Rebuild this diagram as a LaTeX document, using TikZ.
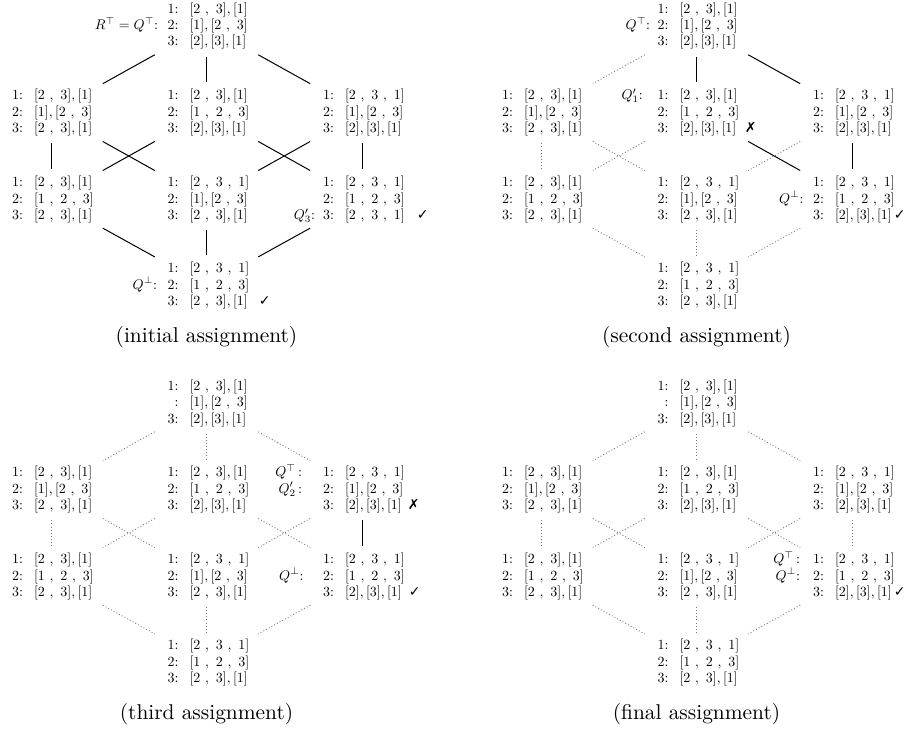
\documentclass[tikz,border=0pt]{standalone}
\usepackage{fontspec}
\newfontfamily\symfont{DejaVu Sans}
\usetikzlibrary{calc}
\newcommand{\pA}{$[2\ ,\ 3],[1]$}
\newcommand{\pB}{$[1],[2\ ,\ 3]$}
\newcommand{\pC}{$[2],[3],[1]$}
\newcommand{\pD}{$[1\ ,\ 2\ ,\ 3]$}
\newcommand{\pE}{$[2\ ,\ 3\ ,\ 1]$}
% gaps are given at the final (scaled) size; text nodes are scaled by 0.7
\newcommand{\cmk}[1][6pt]{\rlap{\hspace{1.4286\dimexpr #1\relax}{\symfont ✓}}}
\newcommand{\xmk}[1][5pt]{\rlap{\hspace{1.4286\dimexpr #1\relax}{\symfont ✗}}}
\newcommand{\edge}[3]{\draw[#1] ($(#2)!0.333!(#3)$) -- ($(#2)!0.667!(#3)$);}
\newcommand{\vedge}[3]{\draw[#1] ($(#2)!0.355!(#3)$) -- ($(#2)!0.645!(#3)$);}
% one lattice element: #1 centre coordinate, then label/content of rows 1-3
\newcommand{\cellat}[7]{%
  \path (#1) ++(-28,-13) node[numtxt] (#1-n1) {#2}
        (#1) ++(-17,-13) node[contxt] (#1-c1) {#3}
        (#1) ++(-28,3.5) node[numtxt] (#1-n2) {#4}
        (#1) ++(-17,3.5) node[contxt] (#1-c2) {#5}
        (#1) ++(-28,20) node[numtxt] (#1-n3) {#6}
        (#1) ++(-17,20) node[contxt] (#1-c3) {#7};}
% annotation left of row #2 of element #1, gap #3 (px)
\newcommand{\annat}[4]{%
  \path (#1-n#2.base west) ++(-#3,0) node[anntxt] (#1-a#2) {#4};}
\newcommand{\panelcoords}[1]{%
  \coordinate (#1T) at (206.5,26);
  \coordinate (#1UL) at (51,112.5);
  \coordinate (#1UM) at (206.5,112.5);
  \coordinate (#1UR) at (362,112.5);
  \coordinate (#1VL) at (51,199.5);
  \coordinate (#1VM) at (206.5,199.5);
  \coordinate (#1VR) at (362,199.5);
  \coordinate (#1B) at (206.5,285.5);}
\tikzset{
  rowtxt/.style={inner sep=0pt, outer sep=0pt, scale=0.7, transform shape, font=\fontsize{10}{12}\selectfont},
  numtxt/.style={rowtxt, anchor=base east},
  anntxt/.style={rowtxt, anchor=base east},
  contxt/.style={rowtxt, anchor=base west},
  captext/.style={inner sep=0pt, font=\fontsize{10.7}{13}\selectfont},
  solidedge/.style={line width=0.5pt, black},
  dotedge/.style={line width=0.45pt, black!55, dash pattern=on 0.45pt off 1.1pt},
}
\begin{document}
\begin{tikzpicture}[x=0.5pt, y=-0.5pt]
\useasboundingbox (0,0) rectangle (910,728);
% ---------------- panel a: initial assignment
\begin{scope}
\panelcoords{a}
\cellat{aT}{1:}{\pA}{2:}{\pB}{3:}{\pC}
\cellat{aUL}{1:}{\pA}{2:}{\pB}{3:}{\pA}
\cellat{aUM}{1:}{\pA}{2:}{\pD}{3:}{\pC}
\cellat{aUR}{1:}{\pE}{2:}{\pB}{3:}{\pC}
\cellat{aVL}{1:}{\pA}{2:}{\pD}{3:}{\pA}
\cellat{aVM}{1:}{\pE}{2:}{\pB}{3:}{\pA}
\cellat{aVR}{1:}{\pE}{2:}{\pD}{3:}{\pE\cmk[6pt]}
\cellat{aB}{1:}{\pE}{2:}{\pD}{3:}{\pA\cmk[5.5pt]}
\annat{aT}{2}{9.5}{$R^{\top}=Q^{\top}$:}
\annat{aVR}{3}{8}{$Q'_3$:}
\annat{aB}{2}{10.5}{$Q^{\perp}$:}
\node[captext] (acap) at (206.5,337) {(initial assignment)};
\edge{solidedge}{aT}{aUL}
\vedge{solidedge}{aT}{aUM}
\edge{solidedge}{aT}{aUR}
\vedge{solidedge}{aUL}{aVL}
\edge{solidedge}{aUL}{aVM}
\edge{solidedge}{aUM}{aVL}
\edge{solidedge}{aUM}{aVR}
\edge{solidedge}{aUR}{aVM}
\vedge{solidedge}{aUR}{aVR}
\edge{solidedge}{aVL}{aB}
\vedge{solidedge}{aVM}{aB}
\edge{solidedge}{aVR}{aB}
\end{scope}
% ---------------- panel b: second assignment
\begin{scope}[shift={(490,0)}]
\panelcoords{b}
\cellat{bT}{1:}{\pA}{2:}{\pB}{3:}{\pC}
\cellat{bUL}{1:}{\pA}{2:}{\pB}{3:}{\pA}
\cellat{bUM}{1:}{\pA}{2:}{\pD}{3:}{\pC\xmk[4.3pt]}
\cellat{bUR}{1:}{\pE}{2:}{\pB}{3:}{\pC}
\cellat{bVL}{1:}{\pA}{2:}{\pD}{3:}{\pA}
\cellat{bVM}{1:}{\pE}{2:}{\pB}{3:}{\pA}
\cellat{bVR}{1:}{\pE}{2:}{\pD}{3:}{\pC\cmk[1pt]}
\cellat{bB}{1:}{\pE}{2:}{\pD}{3:}{\pA}
\annat{bT}{2}{7.5}{$Q^{\top}$:}
\annat{bUM}{1}{14.8}{$Q'_1$:}
\annat{bVR}{2}{9.7}{$Q^{\perp}$:}
\node[captext] (bcap) at (206.5,337) {(second assignment)};
\edge{dotedge}{bT}{bUL}
\vedge{solidedge}{bT}{bUM}
\edge{solidedge}{bT}{bUR}
\vedge{dotedge}{bUL}{bVL}
\edge{dotedge}{bUL}{bVM}
\edge{dotedge}{bUM}{bVL}
\edge{solidedge}{bUM}{bVR}
\edge{dotedge}{bUR}{bVM}
\vedge{solidedge}{bUR}{bVR}
\edge{dotedge}{bVL}{bB}
\vedge{dotedge}{bVM}{bB}
\edge{dotedge}{bVR}{bB}
\end{scope}
% ---------------- panel c: third assignment
\begin{scope}[shift={(0,377)}]
\panelcoords{c}
\cellat{cT}{1:}{\pA}{:\hspace{3.5pt}}{\pB}{3:}{\pC}
\cellat{cUL}{1:}{\pA}{2:}{\pB}{3:}{\pA}
\cellat{cUM}{1:}{\pA}{2:}{\pD}{3:}{\pC}
\cellat{cUR}{1:}{\pE}{2:}{\pB}{3:}{\pC\xmk[3pt]}
\cellat{cVL}{1:}{\pA}{2:}{\pD}{3:}{\pA}
\cellat{cVM}{1:}{\pE}{2:}{\pB}{3:}{\pA}
\cellat{cVR}{1:}{\pE}{2:}{\pD}{3:}{\pC\cmk[3.5pt]}
\cellat{cB}{1:}{\pE}{2:}{\pD}{3:}{\pA}
\annat{cUR}{1}{21}{$Q^{\top}$\,:}
\annat{cUR}{2}{21}{$Q'_2$\,:}
\annat{cVR}{2}{19.7}{$Q^{\perp}$:}
\node[captext] (ccap) at (206.5,337) {(third assignment)};
\edge{dotedge}{cT}{cUL}
\vedge{dotedge}{cT}{cUM}
\edge{dotedge}{cT}{cUR}
\vedge{dotedge}{cUL}{cVL}
\edge{dotedge}{cUL}{cVM}
\edge{dotedge}{cUM}{cVL}
\edge{dotedge}{cUM}{cVR}
\edge{dotedge}{cUR}{cVM}
\vedge{solidedge}{cUR}{cVR}
\edge{dotedge}{cVL}{cB}
\vedge{dotedge}{cVM}{cB}
\edge{dotedge}{cVR}{cB}
\end{scope}
% ---------------- panel d: final assignment
\begin{scope}[shift={(490,377)}]
\panelcoords{d}
\cellat{dT}{1:}{\pA}{:\hspace{3.5pt}}{\pB}{3:}{\pC}
\cellat{dUL}{1:}{\pA}{2:}{\pB}{3:}{\pA}
\cellat{dUM}{1:}{\pA}{2:}{\pD}{3:}{\pC}
\cellat{dUR}{1:}{\pE}{2:}{\pB}{3:}{\pC}
\cellat{dVL}{1:}{\pA}{2:}{\pD}{3:}{\pA}
\cellat{dVM}{1:}{\pE}{2:}{\pB}{3:}{\pA}
\cellat{dVR}{1:}{\pE}{2:}{\pD}{3:}{\pC\cmk[1pt]}
\cellat{dB}{1:}{\pE}{2:}{\pD}{3:}{\pA}
\annat{dVR}{1}{13}{$Q^{\top}$\,:}
\annat{dVR}{2}{13}{$Q^{\perp}$:}
\node[captext] (dcap) at (206.5,337) {(final assignment)};
\edge{dotedge}{dT}{dUL}
\vedge{dotedge}{dT}{dUM}
\edge{dotedge}{dT}{dUR}
\vedge{dotedge}{dUL}{dVL}
\edge{dotedge}{dUL}{dVM}
\edge{dotedge}{dUM}{dVL}
\edge{dotedge}{dUM}{dVR}
\edge{dotedge}{dUR}{dVM}
\vedge{dotedge}{dUR}{dVR}
\edge{dotedge}{dVL}{dB}
\vedge{dotedge}{dVM}{dB}
\edge{dotedge}{dVR}{dB}
\end{scope}
\end{tikzpicture}
\end{document}
